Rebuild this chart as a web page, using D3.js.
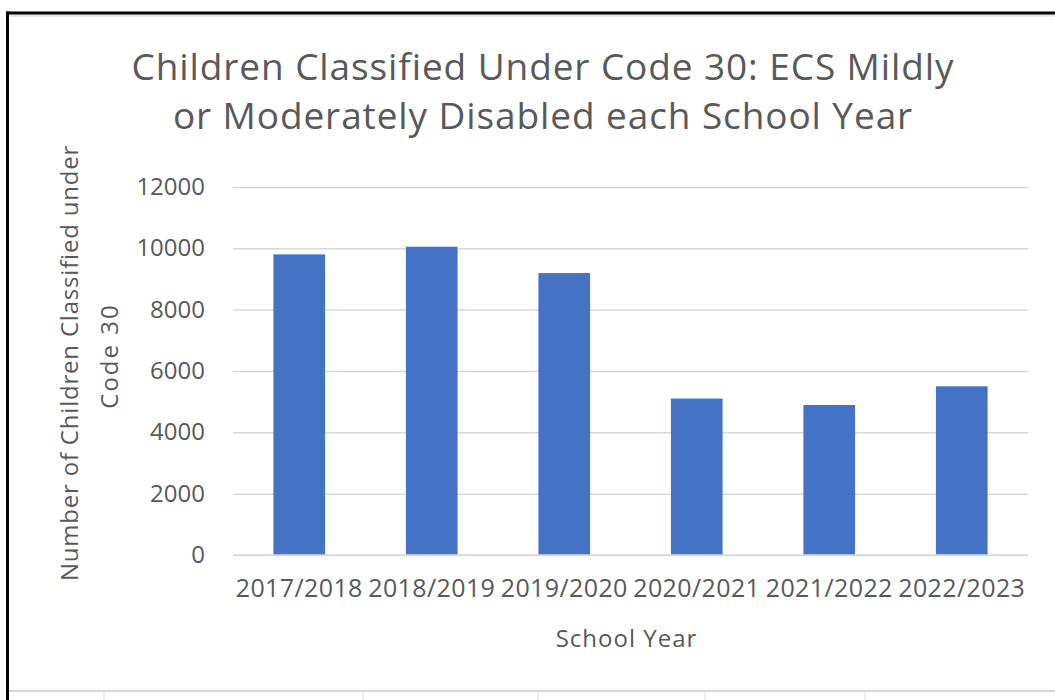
<!DOCTYPE html>
<html>
<head>
<meta charset="utf-8">
<script src="https://cdn.jsdelivr.net/npm/d3@7"></script>
<style>
  body { margin: 0; background: #fff; }
  text { font-family: "Open Sans", "Noto Sans", sans-serif; fill: #595959; }
</style>
</head>
<body>
<svg id="bar-chart"></svg>
<script>
// values
var schoolYears = ["2017/2018", "2018/2019", "2019/2020", "2020/2021", "2021/2022", "2022/2023"];
var childCounts = [9800, 10050, 9190, 5100, 4890, 5500];
var yTickValues = [0, 2000, 4000, 6000, 8000, 10000, 12000];
var titleLines = ["Children Classified Under Code 30: ECS Mildly", "or Moderately Disabled each School Year"];
var yTitleLines = ["Number of Children Classified under", "Code 30"];
var sheetCols = [104, 363, 538, 705, 865];

const width = 1055, height = 700;
const plot = {left: 233, right: 1028, top: 186.9, bottom: 555};

const svg = d3.select("#bar-chart")
    .attr("width", width)
    .attr("height", height);

svg.append("rect")
    .attr("width", width)
    .attr("height", height)
    .attr("fill", "#fff");

// spreadsheet bits around the chart
svg.append("line")
    .attr("x1", 9).attr("x2", width).attr("y1", 691).attr("y2", 691)
    .attr("stroke", "#d6d6d6").attr("stroke-width", 2);
sheetCols.forEach(function(cx) {
  svg.append("line")
      .attr("x1", cx).attr("x2", cx).attr("y1", 692).attr("y2", height)
      .attr("stroke", "#dcdcdc").attr("stroke-width", 1);
});
svg.append("line")
    .attr("x1", 9).attr("x2", width).attr("y1", 16).attr("y2", 16)
    .attr("stroke", "#e6e6e6").attr("stroke-width", 2);

// black frame (top and left)
svg.append("line")
    .attr("x1", 6).attr("x2", width).attr("y1", 13).attr("y2", 13)
    .attr("stroke", "#000").attr("stroke-width", 3);
svg.append("line")
    .attr("x1", 7.5).attr("x2", 7.5).attr("y1", 11.5).attr("y2", height)
    .attr("stroke", "#000").attr("stroke-width", 3);

// scales
var x = d3.scaleBand()
    .domain(schoolYears)
    .range([plot.left, plot.right])
    .paddingInner(0.61)
    .paddingOuter(0.305);
var y = d3.scaleLinear()
    .domain([0, 12000])
    .range([plot.bottom, plot.top]);

// gridlines + y labels
var yAxis = svg.append("g")
    .attr("transform", `translate(${plot.left},0)`)
    .call(d3.axisLeft(y)
        .tickValues(yTickValues)
        .tickSize(-(plot.right - plot.left))
        .tickPadding(28)
        .tickFormat(d3.format("d")));
yAxis.select(".domain").remove();
yAxis.selectAll(".tick line")
    .attr("stroke", "#d9d9d9")
    .attr("stroke-width", 1.5);
yAxis.selectAll(".tick text")
    .style("font-size", "24px")
    .attr("fill", "#595959");

// bars
svg.append("g")
    .selectAll("rect")
    .data(childCounts)
    .join("rect")
    .attr("x", function(d, i) { return x(schoolYears[i]); })
    .attr("y", function(d) { return y(d); })
    .attr("width", x.bandwidth())
    .attr("height", function(d) { return y(0) - y(d); })
    .attr("fill", "#4472c4");

// x axis
var xAxis = svg.append("g")
    .attr("transform", `translate(0,${plot.bottom})`)
    .call(d3.axisBottom(x).tickSize(0).tickPadding(24));
xAxis.select(".domain")
    .attr("d", `M${plot.left},0H${plot.right}`)
    .attr("stroke", "#d9d9d9")
    .attr("stroke-width", 1.5);
xAxis.selectAll(".tick text")
    .style("font-size", "25px")
    .style("letter-spacing", "0.4px")
    .attr("fill", "#595959");

// title
svg.append("g")
    .selectAll("text")
    .data(titleLines)
    .join("text")
    .attr("x", 543)
    .attr("y", function(d, i) { return 80 + i * 49; })
    .attr("text-anchor", "middle")
    .style("font-size", "37px")
    .style("letter-spacing", "0.9px")
    .text(function(d) { return d; });

// axis titles
svg.append("text")
    .attr("x", (plot.left + plot.right) / 2 - 4)
    .attr("y", 647)
    .attr("text-anchor", "middle")
    .style("font-size", "24px")
    .style("letter-spacing", "1px")
    .text("School Year");

svg.append("g")
    .selectAll("text")
    .data(yTitleLines)
    .join("text")
    .attr("transform", function(d, i) { return `translate(${78 + i * 40},${363 - i * 7}) rotate(-90)`; })
    .attr("text-anchor", "middle")
    .style("font-size", "24px")
    .style("letter-spacing", function(d, i) { return i ? "2px" : "0.8px"; })
    .text(function(d) { return d; });
</script>
</body>
</html>
